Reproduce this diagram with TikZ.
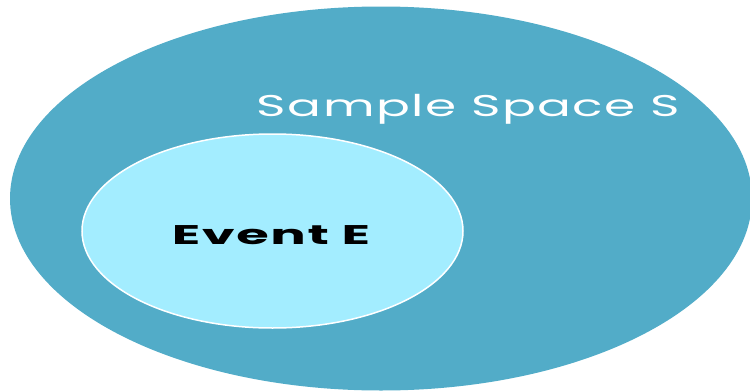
\documentclass[tikz,border=0pt]{standalone}
\usepackage{fontspec}
\setmainfont{Poppins}
\usetikzlibrary{shapes.geometric}
\definecolor{outerc}{RGB}{82,172,200}
\definecolor{innerc}{RGB}{163,237,255}
\tikzset{setshape/.style={ellipse, inner sep=0pt}}
\begin{document}
\begin{tikzpicture}[x=1pt,y=-1pt]
\useasboundingbox (0,0) rectangle (750,391);
\clip (0,0) rectangle (750,391);
\node[setshape, fill=outerc, minimum width=742pt, minimum height=384pt] (S) at (381,198.5) {};
\node[setshape, draw=white, line width=1.5pt, fill=innerc, minimum width=381pt, minimum height=194pt] (E) at (272.5,231) {};
\node[anchor=base, text=white, inner sep=0pt, xscale=1.67, font=\fontsize{30}{34}\selectfont\addfontfeature{LetterSpace=3}] (SL) at (468.5,116) {Sample Space S};
\node[anchor=base, text=black, inner sep=0pt, xscale=1.95, font=\fontsize{27}{31}\selectfont\bfseries\addfontfeature{LetterSpace=3}] (EL) at (271,244) {Event E};
\end{tikzpicture}
\end{document}
